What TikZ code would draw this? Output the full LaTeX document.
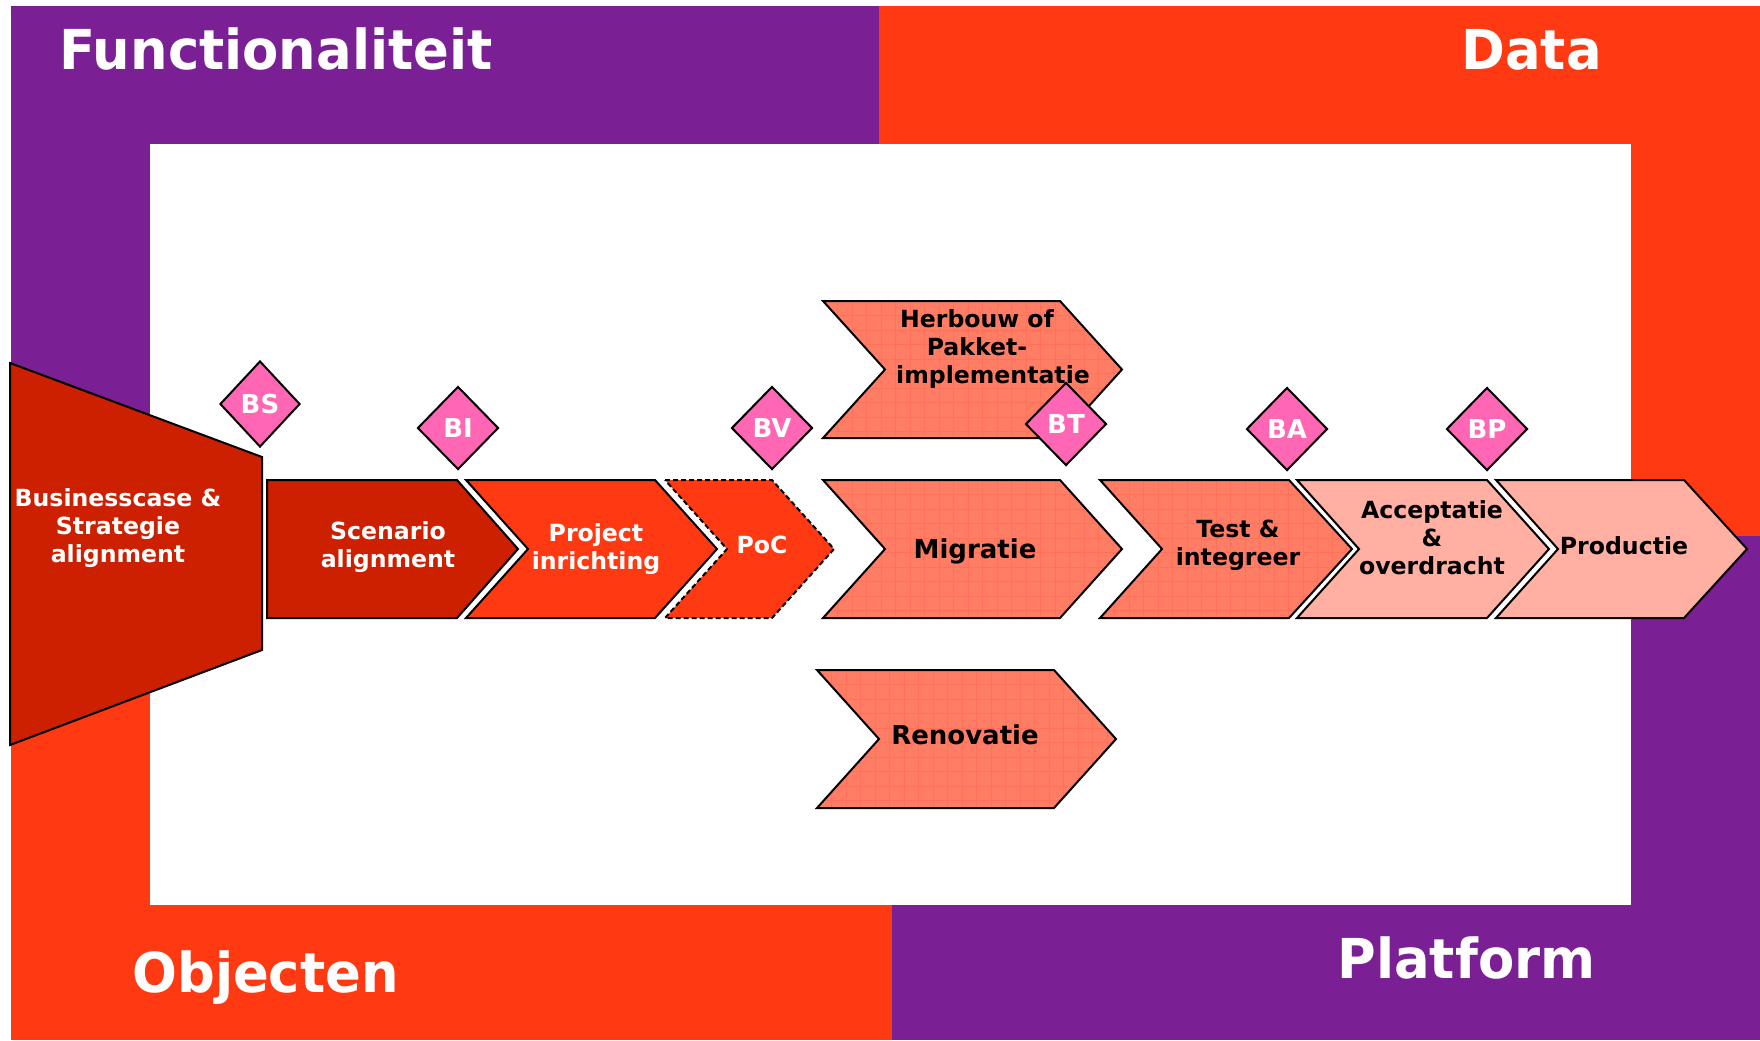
\documentclass[tikz,border=0pt]{standalone}
\usepackage{fontspec}
\setmainfont{DejaVu Sans}
\newfontfamily\titlefont[FakeStretch=0.96]{DejaVu Sans}
\usetikzlibrary{shapes.geometric}
\definecolor{bandpurple}{HTML}{7A1F94}
\definecolor{bandorange}{HTML}{FF3A12}
\definecolor{darkred}{HTML}{CC2000}
\definecolor{gatepink}{HTML}{FF66B3}
\definecolor{salmonfill}{HTML}{FF7D64}
\definecolor{gridsalmon}{HTML}{FF7158}
\definecolor{lightsalmon}{HTML}{FFB0A2}
\newcommand\chevpath[7]{(#1,#5) -- (#3,#5) -- (#4,#6) -- (#3,#7) -- (#1,#7) -- (#2,#6) -- cycle}
\newcommand\mylines[1]{\begin{tabular}[t]{@{}c@{}}#1\end{tabular}}
\tikzset{
  outl/.style={draw=black, line width=1pt, line join=miter},
  gridl/.style={draw=gridsalmon, line width=0.45pt},
  ttl/.style={text=white, font=\titlefont\bfseries\fontsize{27.5}{33}\selectfont, inner sep=0pt, anchor=base west},
  wlab/.style={text=white, font=\bfseries\fontsize{11.8}{14}\selectfont, inner sep=0pt, anchor=base},
  blab/.style={text=black, font=\bfseries\fontsize{11.8}{14}\selectfont, inner sep=0pt, anchor=base},
  bigblab/.style={text=black, font=\bfseries\fontsize{13}{15}\selectfont, inner sep=0pt, anchor=base},
  gate/.style={diamond, draw=black, line width=1pt, fill=gatepink, text=white,
    font=\bfseries\fontsize{13}{15}\selectfont, inner sep=0pt,
    minimum width=40.5pt, minimum height=41.5pt},
}
\newcommand\salmonchev[7]{%
  \begin{scope}
    \clip \chevpath{#1}{#2}{#3}{#4}{#5}{#6}{#7};
    \fill[salmonfill] (#1,#5) rectangle (#4,#7);
    \foreach \k in {1,...,21} {\draw[gridl] ({#1+\k*14.5},#5) -- ({#1+\k*14.5},#7);}
    \foreach \k in {1,...,9} {\draw[gridl] (#1,{#5+\k*14.5}) -- (#4,{#5+\k*14.5});}
  \end{scope}
  \draw[outl] \chevpath{#1}{#2}{#3}{#4}{#5}{#6}{#7};}
\begin{document}
\begin{tikzpicture}[x=0.5pt,y=-0.5pt]
\useasboundingbox (0,0) rectangle (1760,1040);
\fill[white] (0,0) rectangle (1760,1040);
% frame bands
\fill[bandpurple] (11,6) rectangle (879,144);
\fill[bandpurple] (11,6) rectangle (150,560);
\fill[bandorange] (879,6) rectangle (1760,536);
\fill[bandorange] (11,560) rectangle (892,1040);
\fill[bandpurple] (892,536) rectangle (1760,1040);
\fill[white] (150,144) rectangle (1631,905);
% titles
\node[ttl] (tfunc) at (59,69) {Functionaliteit};
\node[ttl] (tdata) at (1461,69) {Data};
\node[ttl] (tobj) at (132,992) {Objecten};
\node[ttl] (tplat) at (1337,978) {Platform};
% businesscase
\draw[outl, fill=darkred] (10,363) -- (262,457) -- (262,650) -- (10,745) -- cycle;
\node[wlab] (bc) at (118,506) {\mylines{Businesscase \&\\Strategie\\alignment}};
% main row
\draw[outl, fill=darkred] (267,480) -- (457,480) -- (518,549) -- (457,618) -- (267,618) -- cycle;
\node[wlab] (scen) at (388,539) {\mylines{Scenario\\alignment}};
\draw[outl, fill=bandorange] \chevpath{466}{528}{655}{717}{480}{549}{618};
\node[wlab] (proj) at (596,541) {\mylines{Project\\inrichting}};
\draw[outl, fill=bandorange, dash pattern=on 2.5pt off 1.5pt] \chevpath{665}{727}{772}{834}{480}{549}{618};
\node[wlab] (poc) at (762,553) {PoC};
\salmonchev{823}{885}{1060}{1122}{301}{369.5}{438}
\node[blab] (herb) at (977,327) {\mylines{Herbouw of\\Pakket-\\\hspace*{16pt}implementatie}};
\salmonchev{823}{885}{1060}{1122}{480}{549}{618}
\node[bigblab] (migr) at (975,558) {Migratie};
\salmonchev{817}{879}{1054}{1116}{670}{739}{808}
\node[bigblab] (reno) at (965,744) {Renovatie};
\salmonchev{1100}{1162}{1289}{1352}{480}{549}{618}
\node[blab] (test) at (1238,537) {\mylines{Test \&\\integreer}};
\draw[outl, fill=lightsalmon] \chevpath{1297}{1359}{1487}{1549}{480}{549}{618};
\node[blab] (acc) at (1432,518) {\mylines{Acceptatie\\\&\\overdracht}};
\draw[outl, fill=lightsalmon] \chevpath{1496}{1558}{1684}{1747}{480}{549}{618};
\node[blab] (prod) at (1624,554) {Productie};
% gates
\node[gate, minimum width=40pt, minimum height=43pt] (bs) at (260,404) {BS};
\node[gate] (bi) at (458,428) {BI};
\node[gate] (bv) at (772,428) {BV};
\node[gate] (bt) at (1066,424) {BT};
\node[gate] (ba) at (1287,429) {BA};
\node[gate] (bp) at (1487,429) {BP};
\end{tikzpicture}
\end{document}
